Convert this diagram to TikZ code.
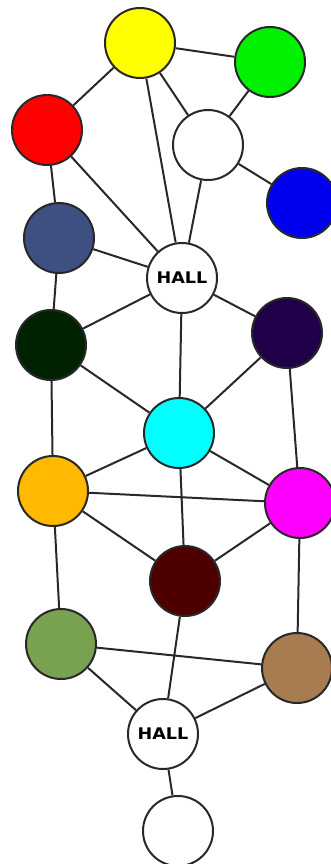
\documentclass[tikz,border=0pt]{standalone}
\usepackage{fontspec}
\newfontfamily\hallfont{DejaVu Sans}[BoldFont={DejaVu Sans Bold}]
\definecolor{cyel}{RGB}{255,255,0}
\definecolor{cgrn}{RGB}{0,240,0}
\definecolor{cred}{RGB}{255,0,0}
\definecolor{cblu}{RGB}{0,0,240}
\definecolor{cnav}{RGB}{62,80,130}
\definecolor{cdgr}{RGB}{0,34,0}
\definecolor{cdpu}{RGB}{32,0,72}
\definecolor{ccya}{RGB}{0,255,255}
\definecolor{cora}{RGB}{255,185,0}
\definecolor{cmag}{RGB}{255,0,255}
\definecolor{cdre}{RGB}{78,0,0}
\definecolor{coli}{RGB}{120,162,80}
\definecolor{cbro}{RGB}{166,124,80}
\definecolor{edgec}{RGB}{40,40,40}
\begin{document}
\begin{tikzpicture}[x=1pt,y=-1pt,
  ball/.style={circle,draw=edgec,line width=2pt,minimum size=70pt,inner sep=0pt},
  hall/.style={ball,fill=white,font={\hallfont\bfseries\fontsize{16}{16}\selectfont}},
  link/.style={draw=edgec,line width=2pt}]
\useasboundingbox (0,0) rectangle (331,864);
\node[ball,fill=cyel] (yel) at (140,43) {};
\node[ball,fill=cgrn] (grn) at (270,62) {};
\node[ball,fill=cred] (red) at (47,130) {};
\node[ball,fill=white] (wtop) at (208,145) {};
\node[ball,fill=cblu] (blu) at (302,203) {};
\node[ball,fill=cnav] (nav) at (59,238) {};
\node[hall] (h1) at (182,278) {\scalebox{1.1}[1]{HALL}};
\node[ball,fill=cdgr] (dgr) at (51,345) {};
\node[ball,fill=cdpu] (dpu) at (287,333) {};
\node[ball,fill=ccya] (cya) at (179,433) {};
\node[ball,fill=cora] (ora) at (53,491) {};
\node[ball,fill=cmag] (mag) at (300,503) {};
\node[ball,fill=cdre] (dre) at (185,581) {};
\node[ball,fill=coli] (oli) at (61,644) {};
\node[ball,fill=cbro] (bro) at (297,668) {};
\node[hall] (h2) at (163,734) {\scalebox{1.1}[1]{HALL}};
\node[ball,fill=white] (wbot) at (178,831) {};
\path[link]
 (yel) -- (grn)
 (yel) -- (red)
 (yel) -- (wtop)
 (yel) -- (h1)
 (grn) -- (wtop)
 (wtop) -- (blu)
 (wtop) -- (h1)
 (red) -- (nav)
 (red) -- (h1)
 (nav) -- (h1)
 (nav) -- (dgr)
 (h1) -- (dgr)
 (h1) -- (cya)
 (h1) -- (dpu)
 (dgr) -- (cya)
 (dgr) -- (ora)
 (dpu) -- (cya)
 (dpu) -- (mag)
 (cya) -- (ora)
 (cya) -- (mag)
 (cya) -- (dre)
 (ora) -- (mag)
 (ora) -- (dre)
 (ora) -- (oli)
 (mag) -- (dre)
 (mag) -- (bro)
 (dre) -- (h2)
 (oli) -- (bro)
 (oli) -- (h2)
 (bro) -- (h2)
 (h2) -- (wbot);
\end{tikzpicture}
\end{document}
